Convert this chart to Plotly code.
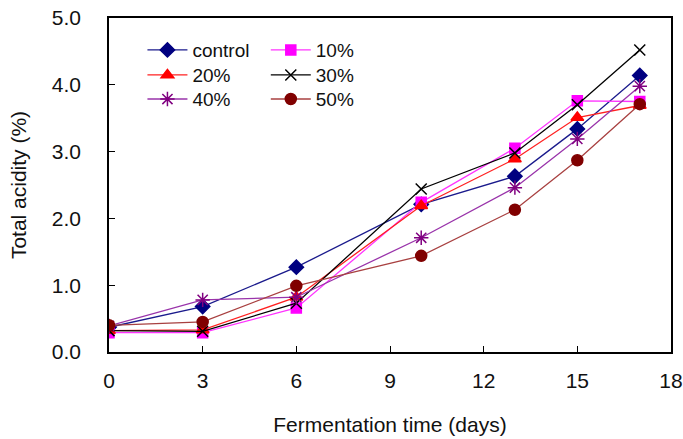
import plotly.graph_objects as go

days = [0, 3, 6, 10, 13, 15, 17]
control = [0.37, 0.68, 1.27, 2.21, 2.63, 3.34, 4.14]
p10 = [0.29, 0.29, 0.66, 2.24, 3.05, 3.76, 3.75]
p20 = [0.32, 0.33, 0.82, 2.19, 2.89, 3.51, 3.69]
p30 = [0.32, 0.31, 0.73, 2.44, 2.98, 3.70, 4.52]
p40 = [0.39, 0.78, 0.82, 1.71, 2.46, 3.19, 3.98]
p50 = [0.40, 0.45, 0.99, 1.44, 2.13, 2.87, 3.71]

font = "Liberation Sans, Arial, sans-serif"

# name, values, line colour, marker colour, symbol, size, legend column, legend row
series = [
    ("control", control, "#1a1a8c", "#000080", "diamond", 11, 0, 0),
    ("10%", p10, "#ff33ff", "#ff00ff", "square", 10, 1, 0),
    ("20%", p20, "#ff2020", "#ff0000", "triangle-up", 11, 0, 1),
    ("30%", p30, "#000000", "#000000", "x-thin-open", 11, 1, 1),
    ("40%", p40, "#9933aa", "#800080", "asterisk-open", 12, 0, 2),
    ("50%", p50, "#a84040", "#800000", "circle", 11, 1, 2),
]
col_x = [0.0595, 0.279]
row_y = [0.904, 0.829, 0.757]

fig = go.Figure()
legends = {}
for i, (name, ys, lc, mc, sym, ms, col, row) in enumerate(series):
    lg = "legend" if i == 0 else f"legend{i + 1}"
    fig.add_trace(go.Scatter(
        x=days, y=ys, name=name, mode="lines+markers",
        line=dict(color=lc, width=1.3),
        marker=dict(symbol=sym, size=ms, color=mc, line=dict(color=mc, width=1.5)),
        legend=lg, showlegend=True,
    ))
    legends[lg] = dict(
        bgcolor="rgba(0,0,0,0)", font=dict(family=font, size=19, color="#111"),
        xanchor="left", yanchor="middle", itemwidth=40,
        x=col_x[col], y=row_y[row],
    )

fig.update_layout(
    width=683, height=439,
    showlegend=True,
    margin=dict(l=109, r=12, t=18, b=87),
    paper_bgcolor="white", plot_bgcolor="white",
    font=dict(family=font, size=21, color="#111"),
    xaxis=dict(
        range=[0, 18], dtick=3, tick0=0, automargin=False,
        showline=True, linecolor="#000", linewidth=1.5, mirror=True,
        ticks="inside", ticklen=6, tickcolor="#000",
        showgrid=False, zeroline=False, ticklabelstandoff=9,
        title=dict(text="Fermentation time (days)", font=dict(size=21), standoff=26),
        tickfont=dict(size=21),
    ),
    yaxis=dict(
        range=[0, 5], dtick=1, tick0=0, tickformat=".1f", automargin=False,
        showline=True, linecolor="#000", linewidth=1.5, mirror=True,
        ticks="inside", ticklen=6, tickcolor="#000",
        showgrid=False, zeroline=False, ticklabelstandoff=22,
        title=dict(text="Total acidity (%)", font=dict(size=21), standoff=19),
        tickfont=dict(size=21),
    ),
)
fig.update_layout(**legends)

fig.write_html("out.html")
